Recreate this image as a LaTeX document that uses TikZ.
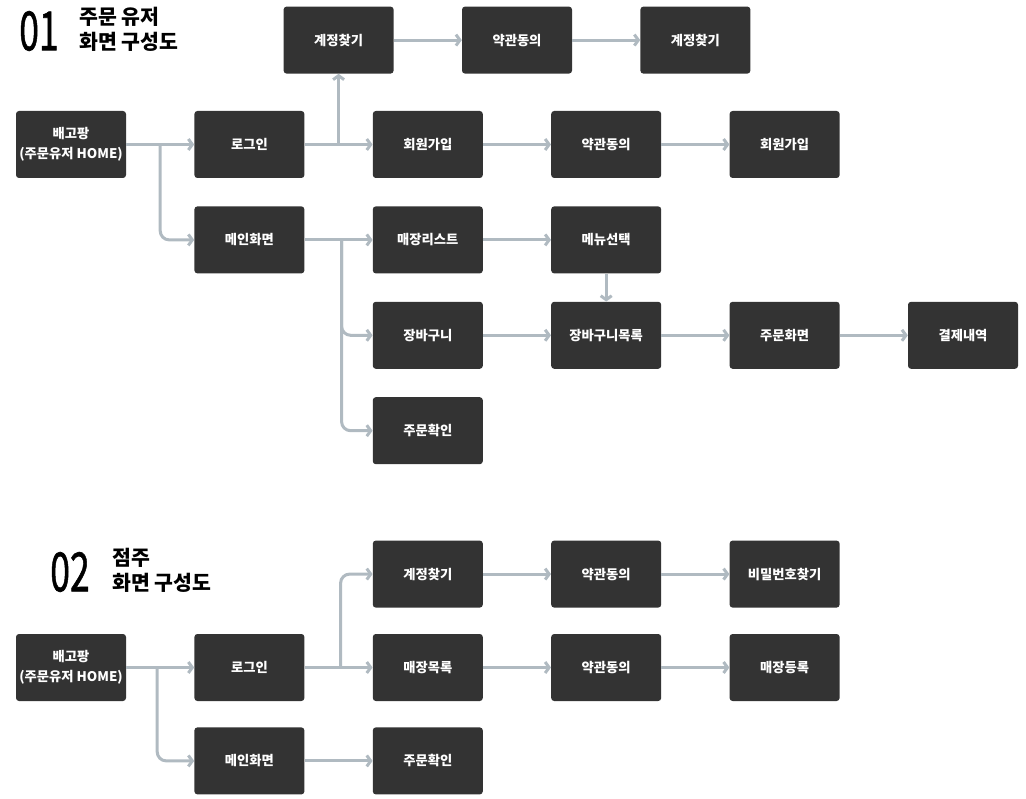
\documentclass[tikz,border=0pt]{standalone}
\usepackage{fontspec}
\setmainfont{Noto Sans CJK KR}
\newfontfamily\numfont{Noto Sans CJK KR}[FakeBold=1.3]
\usetikzlibrary{arrows.meta,positioning,calc}
\definecolor{boxbg}{HTML}{333333}
\definecolor{linegray}{HTML}{B0BAC1}
\begin{document}
\begin{tikzpicture}[
  x=1pt, y=1pt,
  font=\fontsize{13.3}{20}\selectfont\bfseries,
  node distance=28pt and 68pt,
  screen/.style={fill=boxbg, text=white, rounded corners=3pt, align=center,
                 minimum width=110pt, minimum height=67pt, inner sep=2pt},
  flow/.style={-{Straight Barb[length=4pt,width=11pt]}, line width=3pt,
               draw=linegray, rounded corners=9pt},
  num/.style={font=\numfont\fontsize{54}{54}\selectfont, inner sep=0pt},
  ttl/.style={font=\fontsize{20.5}{25}\selectfont\bfseries, align=left, inner sep=0pt, anchor=north west},
]
\useasboundingbox (0,0) rectangle (1026,-799);

% 01 주문 유저
\node[num] (no1) at (39,-31) {\scalebox{0.66}[1]{01}};
\node[ttl] (title1) at (79,-7) {주문 유저\\화면 구성도};

\node[screen] (home) at (71,-144.5) {배고팡\\(주문유저 HOME)};
\node[screen, right=of home] (login) {로그인};
\node[screen, right=of login] (join) {회원가입};
\node[screen, right=of join] (agree2) {약관동의};
\node[screen, right=of agree2] (join2) {회원가입};

\path (login.north) -- (join.north) coordinate[pos=.5] (mid);
\node[screen, above=37pt of mid] (find) {계정찾기};
\node[screen, right=of find] (agree1) {약관동의};
\node[screen, right=of agree1] (find1) {계정찾기};

\node[screen, below=of login] (main) {메인화면};
\node[screen, right=of main] (store) {매장리스트};
\node[screen, right=of store] (menu) {메뉴선택};
\node[screen, below=of store] (cart) {장바구니};
\node[screen, right=of cart] (cartlist) {장바구니목록};
\node[screen, right=of cartlist] (order) {주문화면};
\node[screen, right=of order] (pay) {결제내역};
\node[screen, below=of cart] (confirm) {주문확인};

\coordinate (b1) at ($(home.east)+(34,0)$);
\coordinate (b2) at ($(main.east)+(37,0)$);

\draw[flow] (home) -- (login);
\draw[flow] (b1) |- (main.west);
\draw[flow] (login) -- (join);
\draw[flow] (login.east -| find.south) -- (find.south);
\draw[flow] (find) -- (agree1);
\draw[flow] (agree1) -- (find1);
\draw[flow] (join) -- (agree2);
\draw[flow] (agree2) -- (join2);
\draw[flow] (main) -- (store);
\draw[flow] (b2) |- (cart.west);
\draw[flow] (b2) |- (confirm.west);
\draw[flow] (store) -- (menu);
\draw[flow] (menu) -- (cartlist);
\draw[flow] (cart) -- (cartlist);
\draw[flow] (cartlist) -- (order);
\draw[flow] (order) -- (pay);

% 02 점주
\node[num] (no2) at (70,-572) {\scalebox{0.66}[1]{02}};
\node[ttl] (title2) at (112,-548) {점주\\화면 구성도};

\node[screen] (home2) at (71,-667.5) {배고팡\\(주문유저 HOME)};
\node[screen, right=of home2] (login2) {로그인};
\node[screen, right=of login2] (shop2) {매장목록};
\node[screen, right=of shop2] (agree4) {약관동의};
\node[screen, right=of agree4] (reg) {매장등록};
\node[screen, above=26pt of shop2] (find2) {계정찾기};
\node[screen, right=of find2] (agree3) {약관동의};
\node[screen, right=of agree3] (pw) {비밀번호찾기};
\node[screen, below=26pt of login2] (main2) {메인화면};
\node[screen, right=of main2] (confirm2) {주문확인};

\coordinate (b3) at ($(home2.east)+(31,0)$);
\coordinate (b4) at ($(login2.east)+(36,0)$);

\draw[flow] (home2) -- (login2);
\draw[flow] (b3) |- (main2.west);
\draw[flow] (login2) -- (shop2);
\draw[flow] (b4) |- (find2.west);
\draw[flow] (find2) -- (agree3);
\draw[flow] (agree3) -- (pw);
\draw[flow] (shop2) -- (agree4);
\draw[flow] (agree4) -- (reg);
\draw[flow] (main2) -- (confirm2);
\end{tikzpicture}
\end{document}
